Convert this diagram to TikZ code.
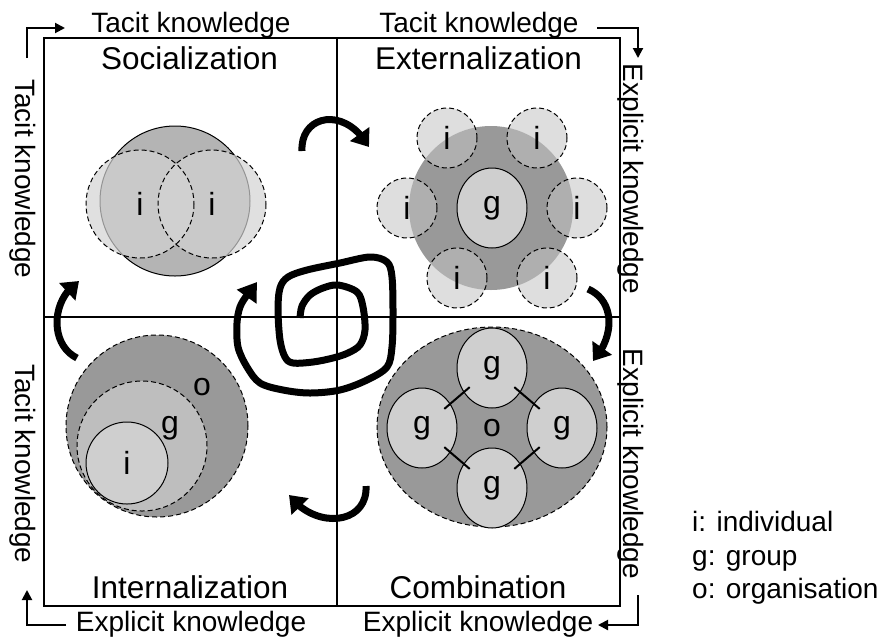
\documentclass[tikz,border=0pt]{standalone}
\usepackage{fontspec}
\setmainfont{Liberation Sans}
\usetikzlibrary{arrows.meta,shapes.geometric,bending}
\definecolor{darkg}{HTML}{999999}
\definecolor{midg}{HTML}{B4B4B4}
\definecolor{midgb}{HTML}{BEBEBE}
\definecolor{lightg}{HTML}{CFCFCF}
\definecolor{ifill}{HTML}{C2C2C2}
\definecolor{sfill}{HTML}{D3D3D3}
\begin{document}
\begin{tikzpicture}[x=1pt,y=-1pt,
  lab/.style={font=\fontsize{28}{30}\selectfont, inner sep=0pt},
  head/.style={font=\fontsize{31.5}{34}\selectfont, inner sep=0pt},
  cl/.style={font=\fontsize{32}{34}\selectfont},
  icirc/.style={circle, fill=ifill, fill opacity=0.55, text opacity=1, inner sep=0pt, cl},
  scirc/.style={circle, fill=sfill, fill opacity=0.7, text opacity=1, inner sep=0pt, cl},
  idash/.style={draw, dash pattern=on 5pt off 3pt, line width=1pt},
  gell/.style={ellipse, draw, line width=1pt, fill=lightg, minimum width=70pt, minimum height=80pt, inner sep=0pt, cl},
  corner/.style={line width=2pt, -{Triangle[length=10pt,width=10pt]}},
  bigarr/.style={line width=7pt, -{Triangle[length=16pt,width=23pt]}},
  frame/.style={line width=1.5pt},
  link/.style={line width=2pt, shorten >=-8pt, shorten <=-8pt}]
\useasboundingbox (0,0) rectangle (877,641);

% frame
\draw[frame] (44,38) rectangle (620,606);
\draw[line width=1.2pt] (337,38) -- (337,606);
\draw[line width=1.2pt] (44,317) -- (620,317);

% outer labels
\node[lab, anchor=base] (tTL) at (191,32) {Tacit knowledge};
\node[lab, anchor=base] (tTR) at (479,32) {Tacit knowledge};
\node[lab, anchor=base] (eBL) at (191,631) {Explicit knowledge};
\node[lab, anchor=base] (eBR) at (478,631) {Explicit knowledge};
\node[lab, rotate=-90, anchor=base] (tL1) at (16,179) {Tacit knowledge};
\node[lab, rotate=-90, anchor=base] (tL2) at (16,464) {Tacit knowledge};
\node[lab, rotate=-90, anchor=base] (eR1) at (623,179) {Explicit knowledge};
\node[lab, rotate=-90, anchor=base] (eR2) at (623,464) {Explicit knowledge};

% headings
\node[head, anchor=base] (soc) at (189.5,69) {Socialization};
\node[head, anchor=base] (ext) at (478.5,69) {Externalization};
\node[head, anchor=base] (int) at (190,598) {Internalization};
\node[head, anchor=base] (com) at (478,598) {Combination};

% corner arrows
\coordinate (c1a) at (27,58);  \coordinate (c1b) at (65,28);
\coordinate (c2a) at (597,28); \coordinate (c2b) at (638,58);
\coordinate (c3a) at (638,595); \coordinate (c3b) at (598,625);
\coordinate (c4a) at (66,625); \coordinate (c4b) at (27,590);
\draw[corner] (c1a) |- (c1b);
\draw[corner] (c2a) -| (c2b);
\draw[corner] (c3a) |- (c3b);
\draw[corner] (c4a) -| (c4b);

% Socialization
\node[circle, draw, line width=1pt, fill=midg, minimum size=150pt] (sbig) at (175,201) {};
\node[scirc, minimum size=108pt] (si1) at (140,204) {i};
\node[scirc, minimum size=108pt] (si2) at (212,204) {i};
\draw[idash] (si1.center) circle (54);
\draw[idash] (si2.center) circle (54);

% Externalization
\node[circle, fill=darkg, minimum size=164pt] (eo) at (491,208) {};
\node[gell] (eg) at (492,208) {g};
\node[icirc, idash, minimum size=60pt] (ei1) at (447,138) {i};
\node[icirc, idash, minimum size=60pt] (ei2) at (537,138) {i};
\node[icirc, idash, minimum size=60pt] (ei3) at (407,208) {i};
\node[icirc, idash, minimum size=60pt] (ei4) at (577,208) {i};
\node[icirc, idash, minimum size=60pt] (ei5) at (457,278) {i};
\node[icirc, idash, minimum size=60pt] (ei6) at (547,278) {i};

% Internalization
\node[circle, idash, fill=darkg, minimum size=182pt] (io) at (157,426) {};
\node[circle, idash, fill=midgb, minimum size=130pt] (ig) at (142,446) {};
\node[circle, draw, line width=1pt, fill=lightg, minimum size=82pt, inner sep=0pt, cl] (ii) at (127,463) {i};
\node[cl] (iol) at (202,387) {o};
\node[cl] (igl) at (170,428) {g};

% Combination
\node[ellipse, idash, fill=darkg, minimum width=230pt, minimum height=200pt] (co) at (492,427) {};
\node[gell] (cgt) at (492,368) {g};
\node[gell] (cgl) at (422,428) {g};
\node[gell] (cgr) at (562,428) {g};
\node[gell] (cgb) at (492,488) {g};
\node[cl] (col) at (492,428) {o};
\draw[link] (cgt) -- (cgl);
\draw[link] (cgt) -- (cgr);
\draw[link] (cgb) -- (cgl);
\draw[link] (cgb) -- (cgr);

% curved arrows
\coordinate (a1s) at (302,151); \coordinate (a1e) at (369,147);
\coordinate (a2s) at (588,289); \coordinate (a2e) at (593,361);
\coordinate (a3s) at (366,486); \coordinate (a3e) at (289,495);
\coordinate (a4s) at (77,358);  \coordinate (a4e) at (79,281);
\draw[bigarr] (a1s) .. controls (300,115) and (345,105) .. (a1e);
\draw[bigarr] (a2s) .. controls (614,300) and (616,335) .. (a2e);
\draw[bigarr] (a3s) .. controls (368,525) and (315,530) .. (a3e);
\draw[bigarr] (a4s) .. controls (50,345) and (50,300) .. (a4e);

% spiral
\draw[line width=7pt, line join=round, -{Triangle[length=18pt,width=23pt]}]
  plot[smooth, tension=0.55] coordinates {
  (300,318) (302,306) (310,295) (323,288) (338,285) (357,292) (363,307)
  (365,330) (360,345) (348,353) (333,358) (313,362) (293,363) (285,357)
  (280,340) (278,310) (280,288) (288,277) (307,270) (340,263) (370,257)
  (387,262) (392,277) (393,313) (392,347) (387,367) (367,380) (340,390)
  (310,393) (283,390) (260,383) (247,367) (238,347) (237,323) (240,307)
  (247,295) (257,282)};

% legend
\node[lab, anchor=base west] (lg1) at (692,531) {i: individual};
\node[lab, anchor=base west] (lg2) at (692,565) {g: group};
\node[lab, anchor=base west] (lg3) at (692,598) {o: organisation};
\end{tikzpicture}
\end{document}
